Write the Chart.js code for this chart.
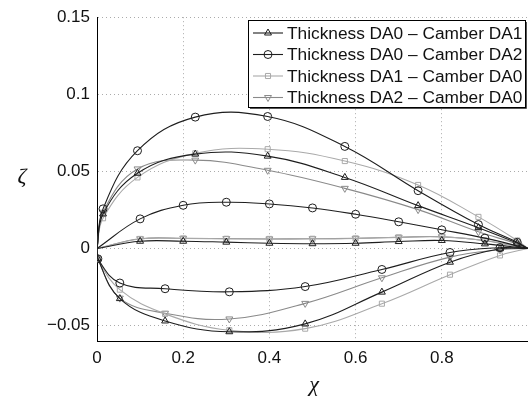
<!DOCTYPE html>
<html>
<head>
<meta charset="utf-8">
<script src="https://cdn.jsdelivr.net/npm/chart.js@4.4.0/dist/chart.umd.min.js"></script>
<style>
  html, body { margin: 0; padding: 0; background: #fff; }
  #wrap { width: 528px; height: 398px; }
</style>
</head>
<body>
<div id="wrap"><canvas id="airfoil" width="528" height="398"></canvas></div>
<script>
// chordwise stations
const upperX  = [0, 0.014, 0.094, 0.228, 0.396, 0.575, 0.745, 0.885, 0.975, 1];
const lowerX  = [0, 0.002, 0.053, 0.158, 0.307, 0.483, 0.661, 0.819, 0.935, 1];
const camberX = [0, 0.1, 0.2, 0.3, 0.4, 0.5, 0.6, 0.7, 0.8, 0.9, 1];

const seriesNames = [
  'Thickness DA0 \u2013 Camber DA1',
  'Thickness DA0 \u2013 Camber DA2',
  'Thickness DA1 \u2013 Camber DA0',
  'Thickness DA2 \u2013 Camber DA0'
];

// Thickness DA0 - Camber DA1
const upperT0C1  = [0, 0.0224, 0.0488, 0.0612, 0.0599, 0.0461, 0.0278, 0.0135, 0.0035, 0];
const camberT0C1 = [0, 0.0047, 0.0047, 0.0041, 0.0034, 0.0031, 0.0034, 0.0045, 0.0052, 0.0030, 0];
const lowerT0C1  = [0, -0.0067, -0.0325, -0.0470, -0.0540, -0.0489, -0.0283, -0.0089, -0.0002, 0];

// Thickness DA0 - Camber DA2
const upperT0C2  = [0, 0.0257, 0.0634, 0.0852, 0.0856, 0.0662, 0.0375, 0.0155, 0.0040, 0];
const camberT0C2 = [0, 0.0192, 0.0280, 0.0300, 0.0289, 0.0263, 0.0222, 0.0173, 0.0121, 0.0067, 0];
const lowerT0C2  = [0, -0.0067, -0.0224, -0.0261, -0.0281, -0.0247, -0.0136, -0.0026, 0.0005, 0];

// Thickness DA1 - Camber DA0
const upperT1C0  = [0, 0.0196, 0.0461, 0.0617, 0.0644, 0.0567, 0.0412, 0.0205, 0.0052, 0];
const camberT1C0 = [0, 0.0062, 0.0065, 0.0063, 0.0062, 0.0063, 0.0065, 0.0072, 0.0075, 0.0052, 0];
const lowerT1C0  = [0, -0.0067, -0.0267, -0.0424, -0.0530, -0.0520, -0.0358, -0.0170, -0.0045, 0];

// Thickness DA2 - Camber DA0
const upperT2C0  = [0, 0.0235, 0.0516, 0.0573, 0.0507, 0.0390, 0.0252, 0.0108, 0.0030, 0];
const camberT2C0 = [0, 0.0063, 0.0066, 0.0064, 0.0062, 0.0063, 0.0066, 0.0073, 0.0076, 0.0050, 0];
const lowerT2C0  = [0, -0.0067, -0.0322, -0.0420, -0.0457, -0.0356, -0.0190, -0.0056, -0.0008, 0];

const xTickValues = [0, 0.2, 0.4, 0.6, 0.8];
const xTickLabels = ['0', '0.2', '0.4', '0.6', '0.8'];
const yTickValues = [-0.05, 0, 0.05, 0.1, 0.15];
const yTickLabels = ['\u22120.05', '0', '0.05', '0.1', '0.15'];

(function() {
  'use strict';

  const styles = [
    { color: '#1e1e1e', marker: 'triangle', rotation: 0 },
    { color: '#1e1e1e', marker: 'circle',   rotation: 0 },
    { color: '#a9a9a9', marker: 'rect',     rotation: 0 },
    { color: '#8a8a8a', marker: 'triangle', rotation: 180 }
  ];
  const curves = [
    [upperT0C1, camberT0C1, lowerT0C1],
    [upperT0C2, camberT0C2, lowerT0C2],
    [upperT1C0, camberT1C0, lowerT1C0],
    [upperT2C0, camberT2C0, lowerT2C0]
  ];
  const xsFor = [upperX, camberX, lowerX];

  const pts = (xs, ys) => xs.map((x, i) => ({ x, y: ys[i] }));

  const datasets = [];
  curves.forEach((set, s) => {
    const st = styles[s];
    set.forEach((ys, c) => {
      datasets.push({
        label: seriesNames[s],
        data: pts(xsFor[c], ys),
        showLine: true,
        tension: 0.4,
        borderColor: st.color,
        borderWidth: 1.1,
        pointStyle: st.marker,
        rotation: st.rotation,
        pointRadius: ctx => (ctx.raw && (ctx.raw.x === 0 || ctx.raw.x === 1)) ? 0 : (st.marker === 'rect' ? 3.6 : 4),
        pointBorderColor: st.color,
        pointBackgroundColor: 'rgba(0,0,0,0)',
        pointBorderWidth: 1
      });
    });
  });

  // legend box drawn inside the plot, top right
  const boxLegend = {
    id: 'boxLegend',
    afterDraw(chart) {
      const ctx = chart.ctx;
      const x0 = 248, y0 = 20, w = 279, h = 88, rowH = 21.5;
      ctx.save();
      ctx.fillStyle = '#fff';
      ctx.fillRect(x0, y0, w, h);
      ctx.strokeStyle = '#000';
      ctx.lineWidth = 1;
      ctx.strokeRect(x0 + 0.5, y0 + 0.5, w - 2, h - 1);
      ctx.strokeStyle = '#555';
      ctx.beginPath();
      ctx.moveTo(x0 + w - 0.5, y0 + 2); ctx.lineTo(x0 + w - 0.5, y0 + h + 0.5);
      ctx.lineTo(x0 + 2, y0 + h + 0.5);
      ctx.stroke();
      ctx.font = '17.3px "Liberation Sans", Arial, sans-serif';
      ctx.textBaseline = 'middle';
      seriesNames.forEach((name, i) => {
        const st = styles[i];
        const cy = y0 + 13 + i * rowH;
        ctx.strokeStyle = st.color;
        ctx.lineWidth = 1.1;
        ctx.beginPath();
        ctx.moveTo(253, cy); ctx.lineTo(283, cy);
        ctx.stroke();
        ctx.fillStyle = 'rgba(0,0,0,0)';
        ctx.strokeStyle = st.color;
        ctx.lineWidth = 1;
        Chart.helpers.drawPoint(ctx, {
          pointStyle: st.marker, rotation: st.rotation,
          radius: st.marker === 'rect' ? 3.6 : 4, borderWidth: 1
        }, 268, cy);
        ctx.fillStyle = '#111';
        ctx.fillText(name, 287, cy + 1);
      });
      ctx.restore();
    }
  };

  // axis symbols, upright like the original
  const axisSymbols = {
    id: 'axisSymbols',
    afterDraw(chart) {
      const ctx = chart.ctx;
      ctx.save();
      ctx.fillStyle = '#111';
      ctx.font = 'italic 22px "Liberation Serif", "DejaVu Serif", serif';
      ctx.textAlign = 'center';
      ctx.textBaseline = 'middle';
      ctx.fillText('\u03B6', 22, 177);
      ctx.fillText('\u03C7', 314, 385);
      ctx.restore();
    }
  };

  const tickFont = { family: '"Liberation Sans", Arial, sans-serif', size: 17 };

  new Chart(document.getElementById('airfoil'), {
    type: 'scatter',
    data: { datasets },
    options: {
      responsive: false,
      animation: false,
      layout: { padding: { top: 16, right: 0, left: 0, bottom: 0 } },
      plugins: { legend: { display: false }, tooltip: { enabled: false } },
      scales: {
        x: {
          type: 'linear', min: 0, max: 1,
          afterBuildTicks: axis => { axis.ticks = xTickValues.map(v => ({ value: v })); },
          afterFit: axis => { axis.height = 57; },
          ticks: {
            font: tickFont, color: '#111', padding: 7, maxRotation: 0,
            callback: (v) => xTickLabels[xTickValues.indexOf(v)]
          },
          grid: { color: '#ababab', drawTicks: false },
          border: { display: true, color: '#000', width: 1, dash: [1, 3] }
        },
        y: {
          type: 'linear', min: -0.06, max: 0.15,
          afterBuildTicks: axis => { axis.ticks = yTickValues.map(v => ({ value: v })); },
          afterFit: axis => { axis.width = 97; },
          ticks: {
            font: tickFont, color: '#111', padding: 7,
            callback: (v) => yTickLabels[yTickValues.indexOf(v)]
          },
          grid: { color: '#ababab', drawTicks: false },
          border: { display: true, color: '#000', width: 1, dash: [1, 3] }
        }
      }
    },
    plugins: [boxLegend, axisSymbols]
  });
})();
</script>
</body>
</html>
